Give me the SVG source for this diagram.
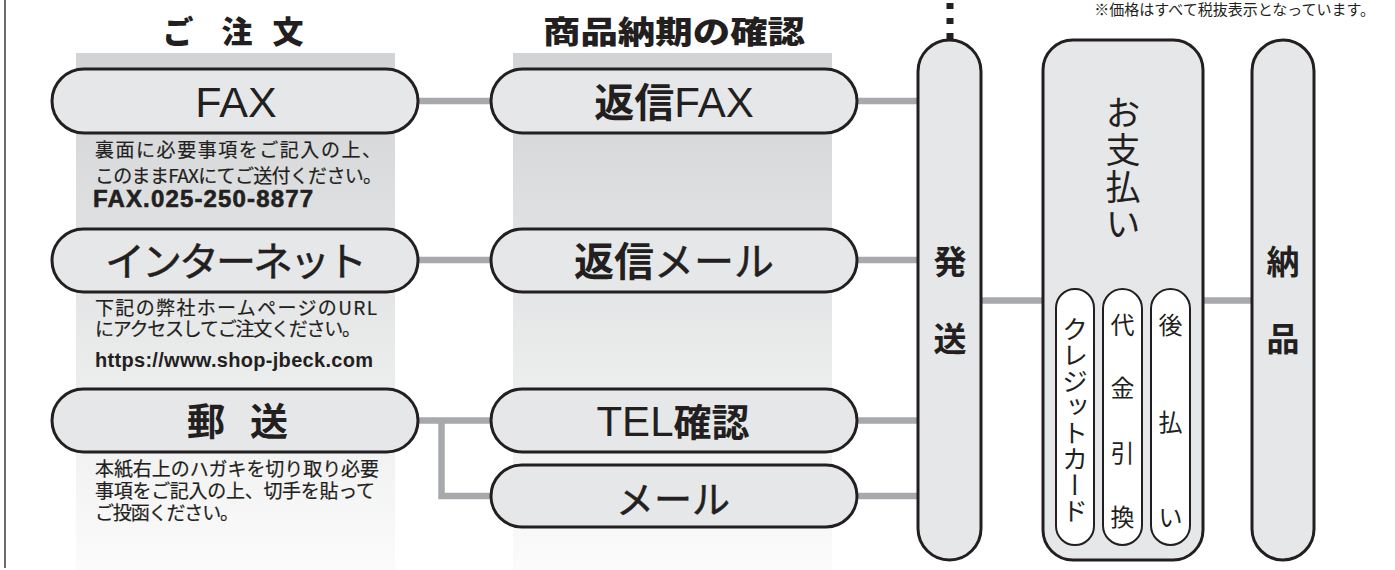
<svg xmlns="http://www.w3.org/2000/svg" width="1395" height="570" viewBox="0 0 1395 570">
<style>
.pill{fill:#e6e7e8;stroke:#231f20;stroke-width:3}
.inner{fill:#ffffff;stroke:#231f20;stroke-width:2}
.conn{stroke:#a7a9ac;stroke-width:6.5;fill:none}
.jp{font-family:"Noto Sans CJK JP",sans-serif;fill:#231f20}
.lat{font-family:"Liberation Sans","Noto Sans CJK JP",sans-serif;fill:#231f20}
.desc{font-family:"Noto Sans CJK JP",sans-serif;font-size:19px;fill:#231f20;stroke:#231f20;stroke-width:0.2}
.mid{text-anchor:middle}
.vert{writing-mode:vertical-rl}
</style>
<defs>
<linearGradient id="colbg" x1="0" y1="0" x2="0" y2="1">
<stop offset="0" stop-color="#d1d3d4"/>
<stop offset="1" stop-color="#fbfbfb"/>
</linearGradient>
</defs>
<rect width="1395" height="570" fill="#ffffff"/>
<line x1="5" y1="0" x2="5" y2="568" stroke="#3a3a3a" stroke-width="1.5"/>
<rect x="76" y="53" width="319" height="517" fill="url(#colbg)"/>
<rect x="513" y="53" width="319" height="517" fill="url(#colbg)"/>
<text class="jp" x="1375" y="15" font-size="15" text-anchor="end">※価格はすべて税抜表示となっています。</text>
<g id="title-order" class="jp" font-size="31" font-weight="900">
<text x="178" y="43" class="mid">ご</text>
<text x="237" y="43" class="mid">注</text>
<text x="288" y="43" class="mid">文</text>
</g>
<g id="title-confirm" class="jp" font-size="31" font-weight="900">
<text x="543" y="43" textLength="262" lengthAdjust="spacingAndGlyphs">商品納期の確認</text>
</g>
<g id="connectors">
<line class="conn" x1="418" y1="101" x2="491" y2="101"/>
<line class="conn" x1="857" y1="101" x2="918" y2="101"/>
<line class="conn" x1="418" y1="260" x2="491" y2="260"/>
<line class="conn" x1="857" y1="260" x2="918" y2="260"/>
<line class="conn" x1="418" y1="420.5" x2="491" y2="420.5"/>
<path class="conn" d="M441.5 420.5 V496 H491"/>
<line class="conn" x1="857" y1="420.5" x2="918" y2="420.5"/>
<line class="conn" x1="857" y1="496" x2="918" y2="496"/>
<line class="conn" x1="981" y1="300.5" x2="1043" y2="300.5"/>
<line class="conn" x1="1203" y1="300.5" x2="1252" y2="300.5"/>
<line x1="950" y1="3" x2="950" y2="40" stroke="#231f20" stroke-width="7" stroke-dasharray="6 9"/>
</g>
<g id="node-fax">
<rect class="pill" x="52" y="69" width="366" height="64" rx="32"/>
<text class="lat mid" x="236" y="117" font-size="43">FAX</text>
<text class="desc" x="95" y="157" textLength="286">裏面に必要事項をご記入の上、</text>
<text class="desc" x="95" y="183" textLength="287">このままFAXにてご送付ください。</text>
<text class="lat" x="93" y="207" font-size="24" font-weight="700" stroke="#231f20" stroke-width="0.6" textLength="220">FAX.025-250-8877</text>
</g>
<g id="node-internet">
<rect class="pill" x="52" y="229" width="366" height="63" rx="31.5"/>
<text class="jp mid" x="236" y="276" font-size="40" stroke="#231f20" stroke-width="0.5" textLength="262">インターネット</text>
<text class="desc" x="95" y="315" textLength="282">下記の弊社ホームページのURL</text>
<text class="desc" x="95" y="336" textLength="266">にアクセスしてご注文ください。</text>
<text class="lat" x="95" y="367" font-size="20" font-weight="700" textLength="278">https://www.shop-jbeck.com</text>
</g>
<g id="node-post">
<rect class="pill" x="52" y="389" width="366" height="63" rx="31.5"/>
<text class="jp mid" x="206" y="435" font-size="38" font-weight="700">郵</text>
<text class="jp mid" x="269" y="435" font-size="38" font-weight="700">送</text>
<text class="desc" x="95" y="476" textLength="284">本紙右上のハガキを切り取り必要</text>
<text class="desc" x="95" y="498" textLength="280">事項をご記入の上、切手を貼って</text>
<text class="desc" x="95" y="520" textLength="144">ご投函ください。</text>
</g>
<g id="node-reply-fax">
<rect class="pill" x="491" y="69" width="366" height="64" rx="32"/>
<text class="lat mid" x="674" y="117" font-size="42"><tspan class="jp" font-size="40" font-weight="700">返信</tspan>FAX</text>
</g>
<g id="node-reply-mail">
<rect class="pill" x="491" y="229" width="366" height="63" rx="31.5"/>
<text class="jp mid" x="674" y="276" font-size="40"><tspan font-weight="700">返信</tspan><tspan stroke="#231f20" stroke-width="0.5">メール</tspan></text>
</g>
<g id="node-tel">
<rect class="pill" x="491" y="389" width="366" height="63" rx="31.5"/>
<text class="lat mid" x="673" y="436" font-size="42">TEL<tspan class="jp" font-size="38" font-weight="700">確認</tspan></text>
</g>
<g id="node-mail">
<rect class="pill" x="491" y="465" width="366" height="62" rx="31"/>
<text class="jp mid" x="673" y="513" font-size="38" stroke="#231f20" stroke-width="0.5">メール</text>
</g>
<g id="node-ship">
<rect class="pill" x="918" y="40" width="63" height="520" rx="31.5"/>
<text class="jp mid" x="950" y="274" font-size="33" font-weight="700">発</text>
<text class="jp mid" x="950" y="351" font-size="33" font-weight="700">送</text>
</g>
<g id="node-payment">
<rect class="pill" x="1043" y="40" width="160" height="520" rx="30"/>
<text class="jp vert" x="1123" y="95" font-size="35" letter-spacing="2">お支払い</text>
</g>
<g id="node-credit">
<rect class="inner" x="1056" y="289" width="38" height="256" rx="19"/>
<text class="jp vert" x="1075" y="420" font-size="26" text-anchor="middle">クレジットカード</text>
</g>
<g id="node-cod">
<rect class="inner" x="1103" y="289" width="39" height="256" rx="19.5"/>
<g class="jp mid" font-size="24">
<text x="1122.5" y="334">代</text>
<text x="1122.5" y="397">金</text>
<text x="1122.5" y="462">引</text>
<text x="1122.5" y="526">換</text>
</g>
</g>
<g id="node-later">
<rect class="inner" x="1151" y="289" width="39" height="256" rx="19.5"/>
<g class="jp mid" font-size="24">
<text x="1170.5" y="334">後</text>
<text x="1170.5" y="431">払</text>
<text x="1170.5" y="526">い</text>
</g>
</g>
<g id="node-delivery">
<rect class="pill" x="1252" y="40" width="62" height="520" rx="31"/>
<text class="jp mid" x="1283" y="274" font-size="33" font-weight="700">納</text>
<text class="jp mid" x="1283" y="351" font-size="33" font-weight="700">品</text>
</g>
</svg>
